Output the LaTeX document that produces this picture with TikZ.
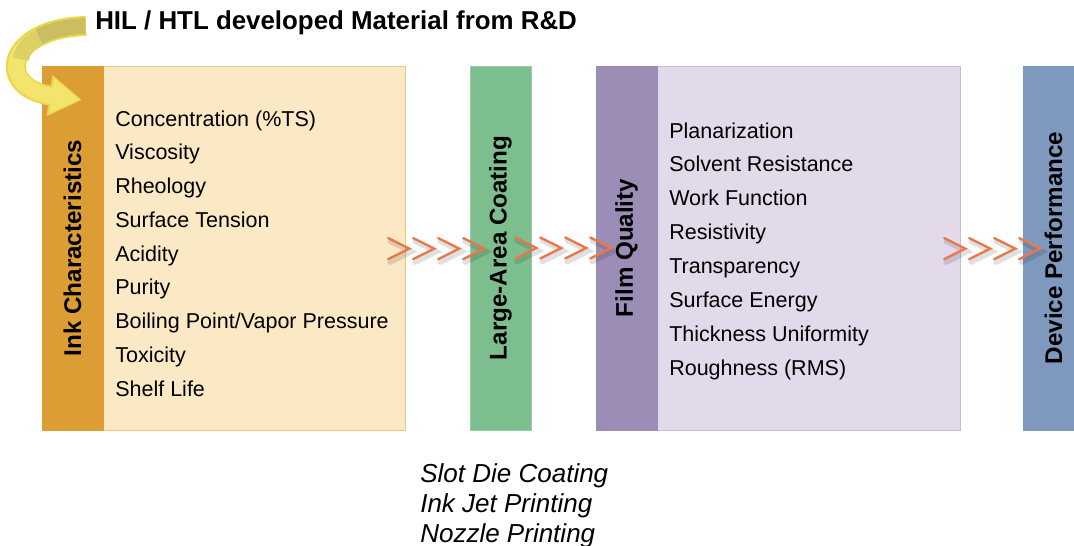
\documentclass[tikz,border=0pt]{standalone}
\usepackage{fontspec}
\setmainfont{Liberation Sans}
\usetikzlibrary{arrows.meta,calc}

\definecolor{inkdark}{HTML}{DC9D35}
\definecolor{inklight}{HTML}{FBE9C6}
\definecolor{inkedge}{HTML}{F1C878}
\definecolor{coatgreen}{HTML}{7DBE8E}
\definecolor{coatedge}{HTML}{9CCDA8}
\definecolor{filmdark}{HTML}{9B8DB5}
\definecolor{filmlight}{HTML}{E2DAEA}
\definecolor{filmedge}{HTML}{C6BBD8}
\definecolor{devblue}{HTML}{7F98BE}
\definecolor{chevorange}{HTML}{E8784A}
\definecolor{arrowfill}{HTML}{F3E46E}
\definecolor{arrowmid}{HTML}{DDD064}
\definecolor{arrowolive}{HTML}{CBBE60}
\definecolor{arrowedge}{HTML}{EAD84A}

\tikzset{
  bar/.style={rotate=90, minimum width=9.1cm, minimum height=1.525cm, inner sep=0pt,
    font=\bfseries\fontsize{17.2}{20}\selectfont},
  panel/.style={minimum width=#1, minimum height=9.1cm, anchor=north west, inner sep=0pt, line width=0.8pt},
  item/.style={anchor=base west, inner sep=0pt, font=\fontsize{15.3}{18}\selectfont},
  method/.style={anchor=base west, inner sep=0pt, font=\itshape\fontsize{18.5}{22}\selectfont},
  chev/.style={draw=chevorange, line width=1.7pt, line cap=round},
  chevshade/.style={draw=black, opacity=0.12, line width=4pt, line cap=round},
  band/.style={line width=0.4cm}
}

\begin{document}
\begin{tikzpicture}[x=0.025cm,y=-0.025cm]
	\useasboundingbox (0,0) rectangle (1074,546);
	
	\node[anchor=base west, inner sep=0pt, font=\bfseries\fontsize{18.4}{22}\selectfont] (title) at (95,29) {HIL / HTL developed Material from R\&D};
	
	% stages
	\node[panel=7.55cm, fill=inklight, draw=inkedge] (inkbox) at (103,66) {};
	\node[bar, fill=inkdark, draw=inkdark] (inkbar) at (72.5,248) {Ink Characteristics};
	\node[bar, fill=coatgreen, draw=coatedge] (coatbar) at (500.5,248) {Large-Area Coating};
	\node[panel=7.575cm, fill=filmlight, draw=filmedge] (filmbox) at (657,66) {};
	\node[bar, fill=filmdark, draw=filmdark] (filmbar) at (626.5,248) {Film Quality};
	\node[bar, fill=devblue, draw=devblue] (devbar) at (1053.5,248) {Device Performance};
	
	% curved arrow from the top
	\coordinate (tip) at (82,100);
	\draw[line width=0.5cm, draw=arrowedge, -{Triangle[width=0.98cm,length=0.82cm]}] (86,26) .. controls (5,28) and (-5,88) .. (tip);
	\draw[band, draw=arrowfill, -{Triangle[width=0.84cm,length=0.7cm]}] (85.5,26) .. controls (5,28) and (-5,88) .. ($(tip)+(-2.5,-0.4)$);
	\draw[band, draw=arrowmid] (38.97,36.72) .. controls (28,42.81) and (21.875,50.875) .. (21,59.25);
	\draw[band, draw=arrowolive] (85.5,26) .. controls (65.75,26.5) and (49.94,30.625) .. (38.97,36.72);
	
	% lists
	\foreach \t [count=\i] in {Concentration (\%TS), Viscosity, Rheology, Surface Tension, Acidity, Purity, Boiling Point/Vapor Pressure, Toxicity, Shelf Life}
		\node[item] (ink\i) at (115,{126+33.75*(\i-1)}) {\t};
	\foreach \t [count=\i] in {Planarization, Solvent Resistance, Work Function, Resistivity, Transparency, Surface Energy, Thickness Uniformity, Roughness (RMS)}
		\node[item] (film\i) at (669,{138+33.9*(\i-1)}) {\t};
	
	\foreach \t [count=\i] in {Slot Die Coating, Ink Jet Printing, Nozzle Printing}
		\node[method] (method\i) at (420,{482+30*(\i-1)}) {\t};
	
	% chevrons between stages
	\foreach \a/\d in {inkbox.east/-18, coatbar.south/-16, filmbox.east/-17}
		\foreach \i in {0,...,3} {
			\draw[chevshade] ($(\a)+(\d+25*\i+2,-7.5)$) -- ++(21,10.5) -- ++(-21,10.5);
			\draw[chev] ($(\a)+(\d+25*\i,-10.5)$) -- ++(21,10.5) -- ++(-21,10.5);
		}
\end{tikzpicture}
\end{document}
